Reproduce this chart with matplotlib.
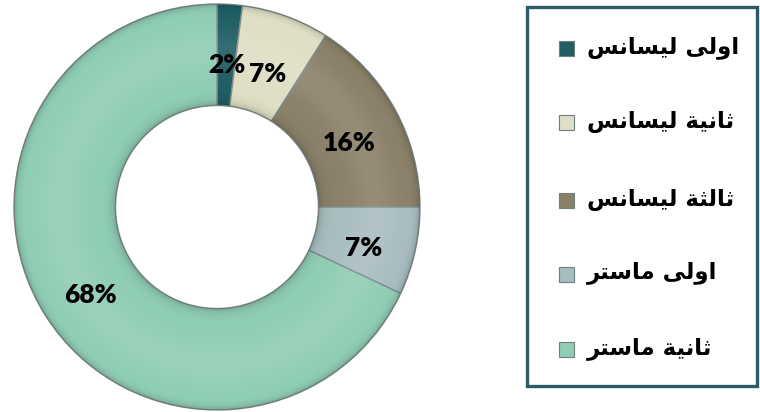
import matplotlib
matplotlib.use("Agg")
import matplotlib.pyplot as plt
import matplotlib.transforms as mtransforms
from matplotlib.patches import Rectangle, Wedge
import numpy as np

# Student share by study level
levels = ["اولى ليسانس", "ثانية ليسانس", "ثالثة ليسانس", "اولى ماستر", "ثانية ماستر"]
shares = [2, 7, 16, 7, 68]
colors = ["#1f5e63", "#dedfc4", "#8b8169", "#a9bdc1", "#90cdb5"]

# Arabic contextual forms: (isolated, final, initial, medial)
FORMS = {
    "ا": ("\uFE8D", "\uFE8E", None, None),
    "و": ("\uFEED", "\uFEEE", None, None),
    "ر": ("\uFEAD", "\uFEAE", None, None),
    "ة": ("\uFE93", "\uFE94", None, None),
    "ى": ("\uFEEF", "\uFEF0", None, None),
    "ل": ("\uFEDD", "\uFEDE", "\uFEDF", "\uFEE0"),
    "ي": ("\uFEF1", "\uFEF2", "\uFEF3", "\uFEF4"),
    "س": ("\uFEB1", "\uFEB2", "\uFEB3", "\uFEB4"),
    "ن": ("\uFEE5", "\uFEE6", "\uFEE7", "\uFEE8"),
    "ث": ("\uFE99", "\uFE9A", "\uFE9B", "\uFE9C"),
    "م": ("\uFEE1", "\uFEE2", "\uFEE3", "\uFEE4"),
    "ت": ("\uFE95", "\uFE96", "\uFE97", "\uFE98"),
}


def shape_arabic(text):
    out = []
    for i, ch in enumerate(text):
        if ch not in FORMS:
            out.append(ch)
            continue
        iso, fin, ini, med = FORMS[ch]
        prev = text[i - 1] if i > 0 else ""
        nxt = text[i + 1] if i + 1 < len(text) else ""
        join_prev = prev in FORMS and FORMS[prev][2] is not None
        join_next = ini is not None and nxt in FORMS
        if join_prev and join_next:
            out.append(med)
        elif join_prev:
            out.append(fin)
        elif join_next:
            out.append(ini)
        else:
            out.append(iso)
    return "".join(out)[::-1]


W, H = 760, 412
fig = plt.figure(figsize=(W / 100, H / 100), dpi=100)
fig.patch.set_facecolor("white")

# Donut
cx, cy, r = 217, 207, 203
ax = fig.add_axes([(cx - r) / W, (H - cy - r) / H, 2 * r / W, 2 * r / H])
wedges, _, pct_texts = ax.pie(
    shares,
    colors=colors,
    startangle=90,
    counterclock=False,
    radius=1.0,
    autopct=lambda p: f"{p:.0f}%",
    pctdistance=0.74,
    wedgeprops=dict(width=0.5, edgecolor="#7f8c89", linewidth=1.0),
    textprops=dict(fontsize=19, fontweight="heavy", family="Lato", color="black"),
)

# Smooth bevel shading across the ring: dark rims, soft highlight in the middle
radii = np.linspace(0.5, 1.0, 81)
for r0, r1 in zip(radii[:-1], radii[1:]):
    t = ((r0 + r1) / 2 - 0.5) / 0.5
    shade = (0.10 * np.exp(-((t - 0.55) / 0.22) ** 2)
             - 0.22 * np.exp(-(1 - t) / 0.03)
             - 0.20 * np.exp(-t / 0.04))
    col = "white" if shade > 0 else "black"
    ax.add_patch(Wedge((0, 0), r1, 0, 360, width=r1 - r0, facecolor=col,
                       alpha=min(abs(shade), 1.0), edgecolor="none",
                       linewidth=0, zorder=1.5))

shift = mtransforms.ScaledTranslation(0, -8 / 100, fig.dpi_scale_trans)
for t in pct_texts:
    t.set_zorder(3)
    t.set_transform(t.get_transform() + shift)

ax.set_xlim(-1.0, 1.0)
ax.set_ylim(-1.0, 1.0)
ax.set_aspect("equal")
ax.axis("off")

# Legend panel drawn in pixel coordinates
lax = fig.add_axes([0, 0, 1, 1])
lax.set_xlim(0, W)
lax.set_ylim(H, 0)
lax.axis("off")
lax.add_patch(Rectangle((527, 7), 230, 379, facecolor="white",
                        edgecolor="#2b5b66", linewidth=2.4))
row_y = [48, 122, 200, 274, 349]
for label, col, y in zip(levels, colors, row_y):
    lax.add_patch(Rectangle((559, y - 7), 15, 15, facecolor=col,
                            edgecolor="#6f7d7c", linewidth=0.8))
    lax.text(587, y - 1, shape_arabic(label), ha="left", va="center",
             fontsize=16.5, fontweight="bold", family="DejaVu Sans", color="black")

fig.savefig("out.png", dpi=100, facecolor="white")
